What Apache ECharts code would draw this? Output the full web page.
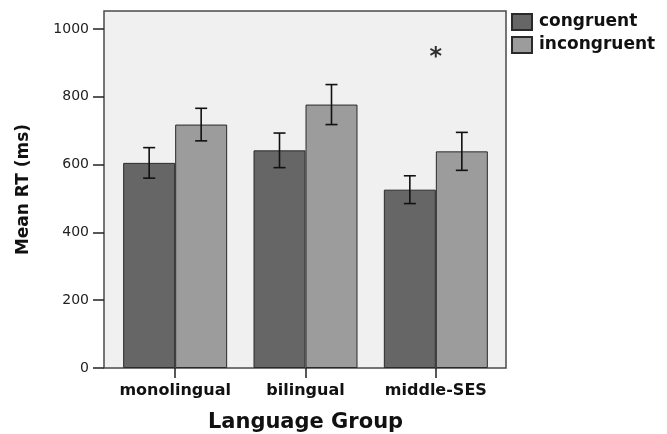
<!DOCTYPE html>
<html>
<head>
<meta charset="utf-8">
<script src="https://cdn.jsdelivr.net/npm/echarts@6/dist/echarts.min.js"></script>
<style>html,body{margin:0;padding:0;background:#fff;}#c{width:667px;height:434px;}</style>
</head>
<body>
<div id="c"></div>
<script>
const categories = ['monolingual', 'bilingual', 'middle-SES'];
const congruentMean = [605, 642, 526];
const congruentErr = [45, 51, 41];
const incongruentMean = [718, 777, 639];
const incongruentErr = [48, 59, 56];
const yTickLabels = [0, 200, 400, 600, 800, 1000];
const asteriskCategory = 'middle-SES';
const asteriskValue = 915;
const xTitle = 'Language Group';
const yTitle = 'Mean RT (ms)';
const seriesNames = ['congruent', 'incongruent'];

const FONT = 'DejaVu Sans';
const plotTop = 11, plotBottom = 368, plotLeft = 104, plotRight = 506;
const plotH = plotBottom - plotTop;
const yMax = 1053;
const tickTop = plotBottom - (yTickLabels[yTickLabels.length - 1] / yMax) * plotH;
const barW = 52;

const errData = [];
categories.forEach((c, i) => {
  errData.push([i, congruentMean[i] - congruentErr[i], congruentMean[i] + congruentErr[i], -1]);
  errData.push([i, incongruentMean[i] - incongruentErr[i], incongruentMean[i] + incongruentErr[i], 1]);
});

const chart = echarts.init(document.getElementById('c'), null, {renderer: 'canvas'});
chart.setOption({
  animation: false,
  backgroundColor: '#ffffff',
  grid: [
    {left: plotLeft, top: plotTop, width: plotRight - plotLeft, height: plotH, show: true,
     backgroundColor: '#f0f0f0', borderColor: '#4a4a4a', borderWidth: 1.5, containLabel: false, outerBoundsMode: 'none'},
    {left: 110, top: plotTop, width: 391, height: plotH, containLabel: false, outerBoundsMode: 'none'},
    {left: plotLeft, top: tickTop, width: plotRight - plotLeft, height: plotBottom - tickTop, containLabel: false, outerBoundsMode: 'none'}
  ],
  legend: {
    orient: 'vertical', left: 511, top: 13, padding: 0, itemWidth: 20, itemHeight: 16, itemGap: 5,
    icon: 'rect',
    textStyle: {fontFamily: FONT, fontWeight: 'bold', fontSize: 17, color: '#111', padding: [0, 0, 0, 2]},
    data: seriesNames
  },
  xAxis: [
    {gridIndex: 0, type: 'value', show: false, min: 0, max: 1},
    {gridIndex: 1, type: 'category', data: categories, boundaryGap: true,
     axisLine: {show: false},
     axisTick: {show: true, alignWithLabel: true, interval: 0, length: 10, lineStyle: {color: '#222', width: 1.5}},
     axisLabel: {interval: 0, fontFamily: FONT, fontWeight: 'bold', fontSize: 16, color: '#111', margin: 15},
     name: xTitle, nameLocation: 'middle', nameGap: 44,
     nameTextStyle: {fontFamily: FONT, fontWeight: 'bold', fontSize: 21, color: '#111'}},
    {gridIndex: 2, type: 'value', show: false, min: 0, max: 1}
  ],
  yAxis: [
    {gridIndex: 0, type: 'value', min: 0, max: 1,
     axisLine: {show: false}, axisTick: {show: false}, axisLabel: {show: false}, splitLine: {show: false},
     name: yTitle, nameLocation: 'middle', nameGap: 72, nameRotate: 90,
     nameTextStyle: {fontFamily: FONT, fontWeight: 'bold', fontSize: 17, color: '#111'}},
    {gridIndex: 1, type: 'value', min: 0, max: yMax, show: false, splitLine: {show: false}},
    {gridIndex: 2, type: 'value', min: yTickLabels[0], max: yTickLabels[yTickLabels.length - 1],
     interval: yTickLabels[1] - yTickLabels[0],
     axisLine: {show: false}, splitLine: {show: false},
     axisTick: {show: true, length: 11, lineStyle: {color: '#222', width: 1.5}},
     axisLabel: {fontFamily: FONT, fontSize: 14, color: '#222', margin: 15, formatter: v => String(v)}}
  ],
  series: [
    {name: seriesNames[0], type: 'bar', xAxisIndex: 1, yAxisIndex: 1, data: congruentMean,
     barWidth: barW, barGap: '0%',
     itemStyle: {color: '#666666', borderColor: '#2a2a2a', borderWidth: 1}},
    {name: seriesNames[1], type: 'bar', xAxisIndex: 1, yAxisIndex: 1, data: incongruentMean,
     barWidth: barW, barGap: '0%',
     itemStyle: {color: '#9c9c9c', borderColor: '#2a2a2a', borderWidth: 1}},
    {type: 'custom', xAxisIndex: 1, yAxisIndex: 1, data: errData, z: 10,
     renderItem: function (params, api) {
       const x = api.coord([api.value(0), 0])[0] + api.value(3) * barW / 2;
       const yLo = api.coord([api.value(0), api.value(1)])[1];
       const yHi = api.coord([api.value(0), api.value(2)])[1];
       const cap = 6;
       const st = {stroke: '#111', lineWidth: 1.6};
       return {type: 'group', children: [
         {type: 'line', shape: {x1: x, y1: yLo, x2: x, y2: yHi}, style: st},
         {type: 'line', shape: {x1: x - cap, y1: yHi, x2: x + cap, y2: yHi}, style: st},
         {type: 'line', shape: {x1: x - cap, y1: yLo, x2: x + cap, y2: yLo}, style: st}
       ]};
     }},
    {type: 'scatter', xAxisIndex: 1, yAxisIndex: 1, symbolSize: 2, itemStyle: {color: 'rgba(0,0,0,0)'},
     data: [[asteriskCategory, asteriskValue]], z: 12,
     label: {show: true, formatter: '*', position: 'inside', fontFamily: FONT, fontWeight: 'bold', fontSize: 24, color: '#000'}}
  ]
});
</script>
</body>
</html>
